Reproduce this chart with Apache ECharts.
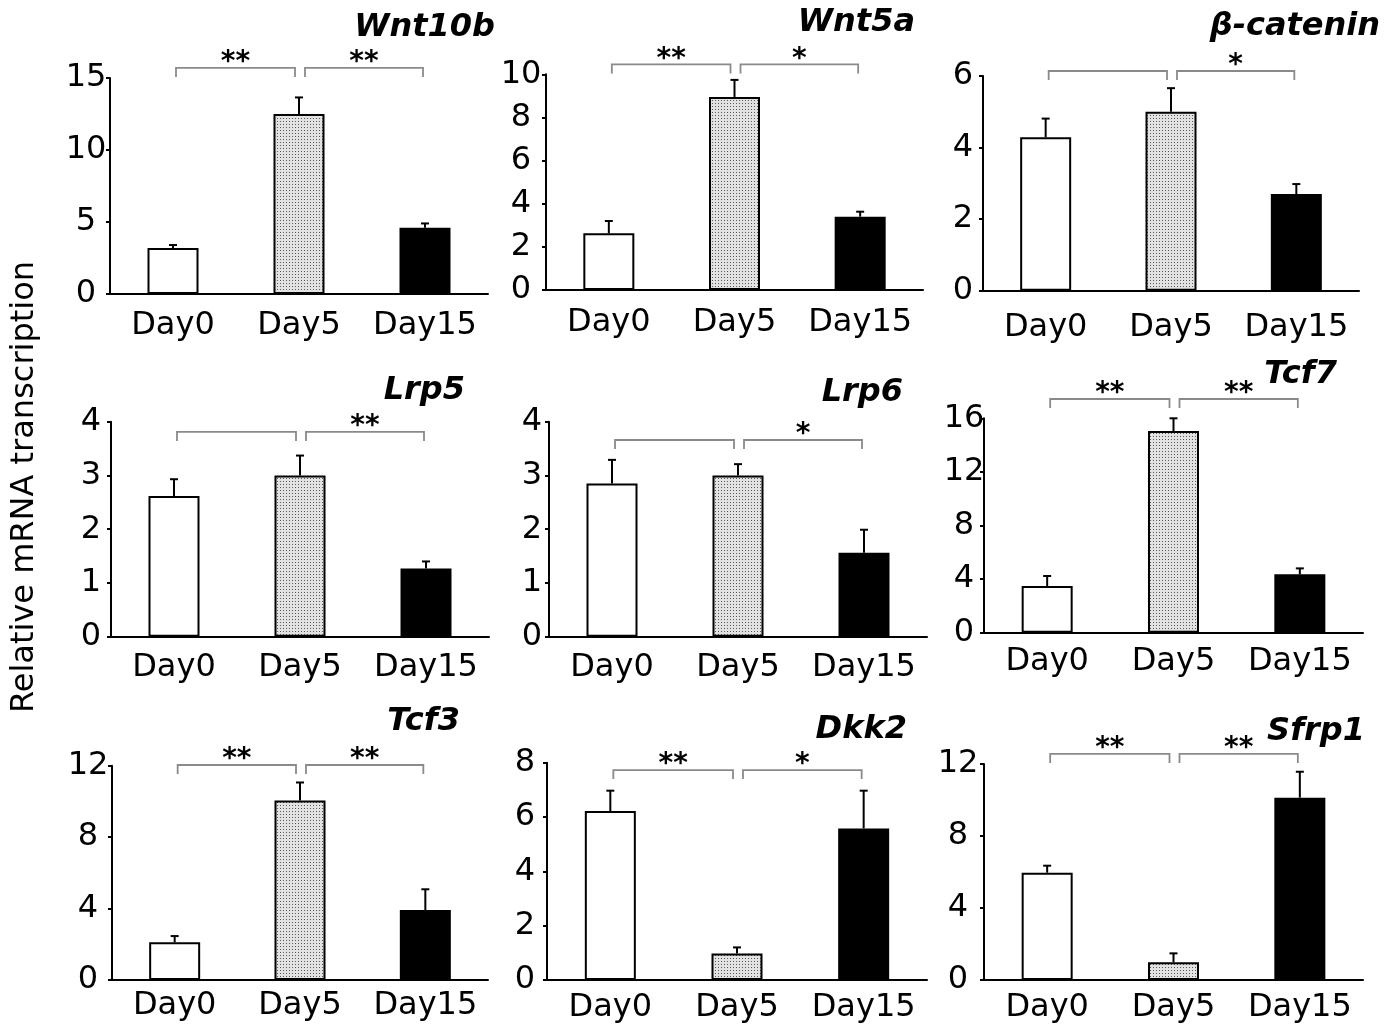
<!DOCTYPE html>
<html><head><meta charset="utf-8">
<script src="https://cdn.jsdelivr.net/npm/echarts@6/dist/echarts.min.js"></script>
<style>html,body{margin:0;padding:0;background:#fff}#c{width:1394px;height:1029px}</style>
</head><body><div id="c"></div>
<script>
// ---- data ----
const categories = ['Day0', 'Day5', 'Day15'];
const genes = ['Wnt10b', 'Wnt5a', 'β-catenin', 'Lrp5', 'Lrp6', 'Tcf7', 'Tcf3', 'Dkk2', 'Sfrp1'];
const wnt10bMean = [3.2, 12.5, 4.6];   const wnt10bErr = [0.2, 1.15, 0.3];
const wnt5aMean  = [2.63, 8.95, 3.4];  const wnt5aErr  = [0.57, 0.79, 0.23];
const bcatMean   = [4.29, 5.0, 2.70];  const bcatErr   = [0.52, 0.66, 0.28];
const lrp5Mean   = [2.62, 3.0, 1.27];  const lrp5Err   = [0.31, 0.37, 0.13];
const lrp6Mean   = [2.85, 3.0, 1.56];  const lrp6Err   = [0.44, 0.21, 0.43];
const tcf7Mean   = [3.48, 15.05, 4.36];const tcf7Err   = [0.75, 0.95, 0.44];
const tcf3Mean   = [2.11, 10.05, 3.92];const tcf3Err   = [0.35, 1.01, 1.16];
const dkk2Mean   = [6.22, 0.98, 5.58]; const dkk2Err   = [0.75, 0.22, 1.39];
const sfrp1Mean  = [5.96, 0.98, 10.13];const sfrp1Err  = [0.39, 0.50, 1.44];
const yMax      = [15, 10, 6, 4, 4, 16, 12, 8, 12];
const yInterval = [5, 2, 2, 1, 1, 4, 4, 2, 4];
const bracketLabels = [['**','**'],['**','*'],['','*'],['','**'],['','*'],['**','**'],['**','**'],['**','*'],['**','**']];
const bracketLevel  = [15.7, 10.46, 6.14, 3.81, 3.66, 17.44, 12.04, 7.73, 12.56];
const yAxisTitle = 'Relative mRNA transcription';

const means = [wnt10bMean, wnt5aMean, bcatMean, lrp5Mean, lrp6Mean, tcf7Mean, tcf3Mean, dkk2Mean, sfrp1Mean];
const errs  = [wnt10bErr, wnt5aErr, bcatErr, lrp5Err, lrp6Err, tcf7Err, tcf3Err, dkk2Err, sfrp1Err];

// ---- layout (pixels) ----
const gridBox = [[110,488,78,294],[546,923,74.3,290],[983,1359,76,290.7],
                 [111,489,421.7,636.7],[549,927,421.7,636.7],[984,1363,418.3,632.7],
                 [112,488,765.7,980],[547,927,762.7,980],[984,1363,764,980]];
const titlePos = [[495,28],[915,23],[1380,27],[465,391],[903,393],[1337,375],[460,722],[907,730],[1365,732]];
const yLabelMargin = [24,25,20,20,17,20,24,22,26];
const xLabelMargin = [16,17,21,15,15,13,10,12,12];
const FONT = 'DejaVu Sans';

// dotted pattern for Day5
const pc = document.createElement('canvas');
pc.width = 3; pc.height = 3;
const pctx = pc.getContext('2d');
pctx.fillStyle = '#e2e2e2'; pctx.fillRect(0,0,3,3);
pctx.fillStyle = '#5a5a5a'; pctx.fillRect(1,1,1,1);
const fills = ['#ffffff', {image: pc, repeat: 'repeat'}, '#000000'];

const grid = [], xAxis = [], yAxis = [], series = [], title = [];
for (let i = 0; i < 9; i++) {
  const [l, r, t, b] = gridBox[i];
  grid.push({left: l, top: t, width: r - l, height: b - t, containLabel: false});
  title.push({text: genes[i], right: 1394 - titlePos[i][0], top: titlePos[i][1] - 16, padding: 0,
    textStyle: {fontFamily: FONT, fontSize: 32, fontWeight: 'bold', fontStyle: 'italic', color: '#000', lineHeight: 32}});
  xAxis.push({type: 'category', gridIndex: i, data: categories,
    axisLine: {lineStyle: {color: '#000', width: 2}}, axisTick: {show: false},
    axisLabel: {interval: 0, hideOverlap: false, fontFamily: FONT, fontSize: 32, color: '#000', margin: xLabelMargin[i]},
    splitLine: {show: false}});
  yAxis.push({type: 'value', gridIndex: i, min: 0, max: yMax[i], interval: yInterval[i],
    axisLine: {show: true, lineStyle: {color: '#000', width: 2}},
    axisTick: {show: true, length: 4, lineStyle: {color: '#000', width: 2}},
    splitLine: {show: false},
    axisLabel: {fontFamily: FONT, fontSize: 32, color: '#000', align: 'center', margin: yLabelMargin[i]}});
  series.push({type: 'bar', xAxisIndex: i, yAxisIndex: i, barWidth: 51, animation: false,
    data: means[i].map((v, j) => ({value: v, itemStyle: {color: fills[j]}})),
    itemStyle: {borderColor: '#000', borderWidth: 2}});
  series.push({type: 'custom', xAxisIndex: i, yAxisIndex: i, animation: false, z: 5,
    data: means[i].map((v, j) => [j, v, errs[i][j]]),
    renderItem: function (params, api) {
      const x = api.value(0), m = api.value(1), e = api.value(2);
      const p0 = api.coord([x, m]), p1 = api.coord([x, m + e]);
      return {type: 'group', children: [
        {type: 'line', shape: {x1: p0[0], y1: p0[1], x2: p1[0], y2: p1[1]}, style: {stroke: '#000', lineWidth: 2}},
        {type: 'line', shape: {x1: p1[0] - 4, y1: p1[1], x2: p1[0] + 4, y2: p1[1]}, style: {stroke: '#000', lineWidth: 2}}
      ]};
    }});
  const gi = i;
  series.push({type: 'custom', xAxisIndex: i, yAxisIndex: i, animation: false, z: 5, clip: false,
    data: [[0, 1, bracketLevel[i]], [1, 2, bracketLevel[i]]],
    renderItem: function (params, api) {
      const k = params.dataIndex;
      const lv = api.value(2);
      const a = api.coord([api.value(0), lv]), b = api.coord([api.value(1), lv]);
      const x1 = a[0] + (k === 0 ? 3 : 6), x2 = b[0] + (k === 0 ? -4 : -2);
      const y = a[1], leg = 9;
      const ch = [{type: 'polyline', shape: {points: [[x1, y + leg], [x1, y], [x2, y], [x2, y + leg]]},
        style: {stroke: '#8a8a8a', lineWidth: 1.8, fill: null}}];
      const lab = bracketLabels[gi][k];
      if (lab) ch.push({type: 'text', x: (x1 + x2) / 2, y: y - 5,
        style: {text: lab, fontFamily: FONT, fontSize: 28, fontWeight: 'bold', fill: '#000', align: 'center', verticalAlign: 'middle',
          textAlign: 'center', textVerticalAlign: 'middle'}});
      return {type: 'group', children: ch};
    }});
}

const chart = echarts.init(document.getElementById('c'), null, {renderer: 'canvas'});
chart.setOption({
  animation: false,
  backgroundColor: '#fff',
  title, grid, xAxis, yAxis, series,
  graphic: [{type: 'text', x: 25, y: 487, rotation: Math.PI / 2,
    style: {text: yAxisTitle, fontFamily: FONT, fontSize: 32, fill: '#000',
      align: 'center', verticalAlign: 'middle', textAlign: 'center', textVerticalAlign: 'middle'}}]
});
</script></body></html>
